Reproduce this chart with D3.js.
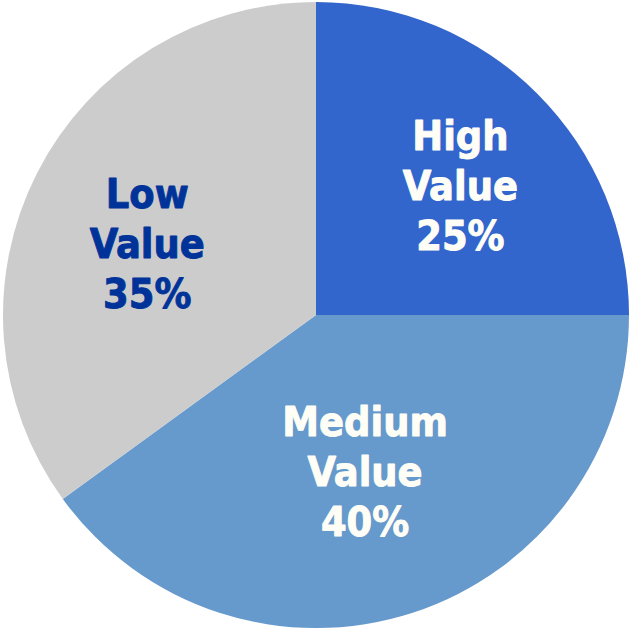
<!DOCTYPE html>
<html>
<head>
<meta charset="utf-8">
<script src="https://cdn.jsdelivr.net/npm/d3@7"></script>
<style>
  html, body { margin: 0; padding: 0; background: #ffffff; }
  svg { display: block; }
</style>
</head>
<body>
<svg id="chart" width="631" height="629"></svg>
<script>
// Customer value segments
const segments = ["High", "Medium", "Low"];
const labelLines = [["High", "Value"], ["Medium", "Value"], ["Low", "Value"]];
const shares = [25, 40, 35];

// Styling, kept apart from the data
const sliceColors = ["#3366CC", "#6699CC", "#CCCCCC"];
const labelColors = ["#FFFEF6", "#FFFEF6", "#003399"];
const labelNudge = [[16, -2], [-7, -17], [-7, 10]];

const width = 631, height = 629;
const cx = 316, cy = 315, radius = 313;
const labelRadius = radius * 0.58;
const lineHeight = 50;

const svg = d3.select("#chart");
const g = svg.append("g").attr("transform", `translate(${cx},${cy})`);

const pie = d3.pie().sort(null).value(d => d.value);
const data = segments.map((s, i) => ({ name: s, value: shares[i], index: i }));
const arcs = pie(data);

const arc = d3.arc().innerRadius(0).outerRadius(radius);
const labelArc = d3.arc().innerRadius(labelRadius).outerRadius(labelRadius);

g.selectAll("path.slice")
  .data(arcs)
  .join("path")
  .attr("class", "slice")
  .attr("d", arc)
  .attr("fill", d => sliceColors[d.data.index]);

const labels = g.selectAll("text.label")
  .data(arcs)
  .join("text")
  .attr("class", "label")
  .attr("text-anchor", "middle")
  .attr("font-family", "'DejaVu Sans Condensed', 'DejaVu Sans', sans-serif")
  .attr("font-weight", "bold")
  .attr("font-size", 41)
  .attr("fill", d => labelColors[d.data.index])
  .attr("stroke", d => labelColors[d.data.index])
  .attr("stroke-width", 0.9)
  .attr("stroke-linejoin", "round")
  .attr("transform", d => {
    const [x, y] = labelArc.centroid(d);
    const [nx, ny] = labelNudge[d.data.index];
    return `translate(${x + nx},${y + ny})`;
  });

labels.each(function(d) {
  const lines = labelLines[d.data.index].concat([d3.format(".0f")(d.data.value) + "%"]);
  const t = d3.select(this);
  lines.forEach((line, k) => {
    t.append("tspan")
      .attr("x", 0)
      .attr("y", (k - 1) * lineHeight + 15)
      .text(line);
  });
});
</script>
</body>
</html>
